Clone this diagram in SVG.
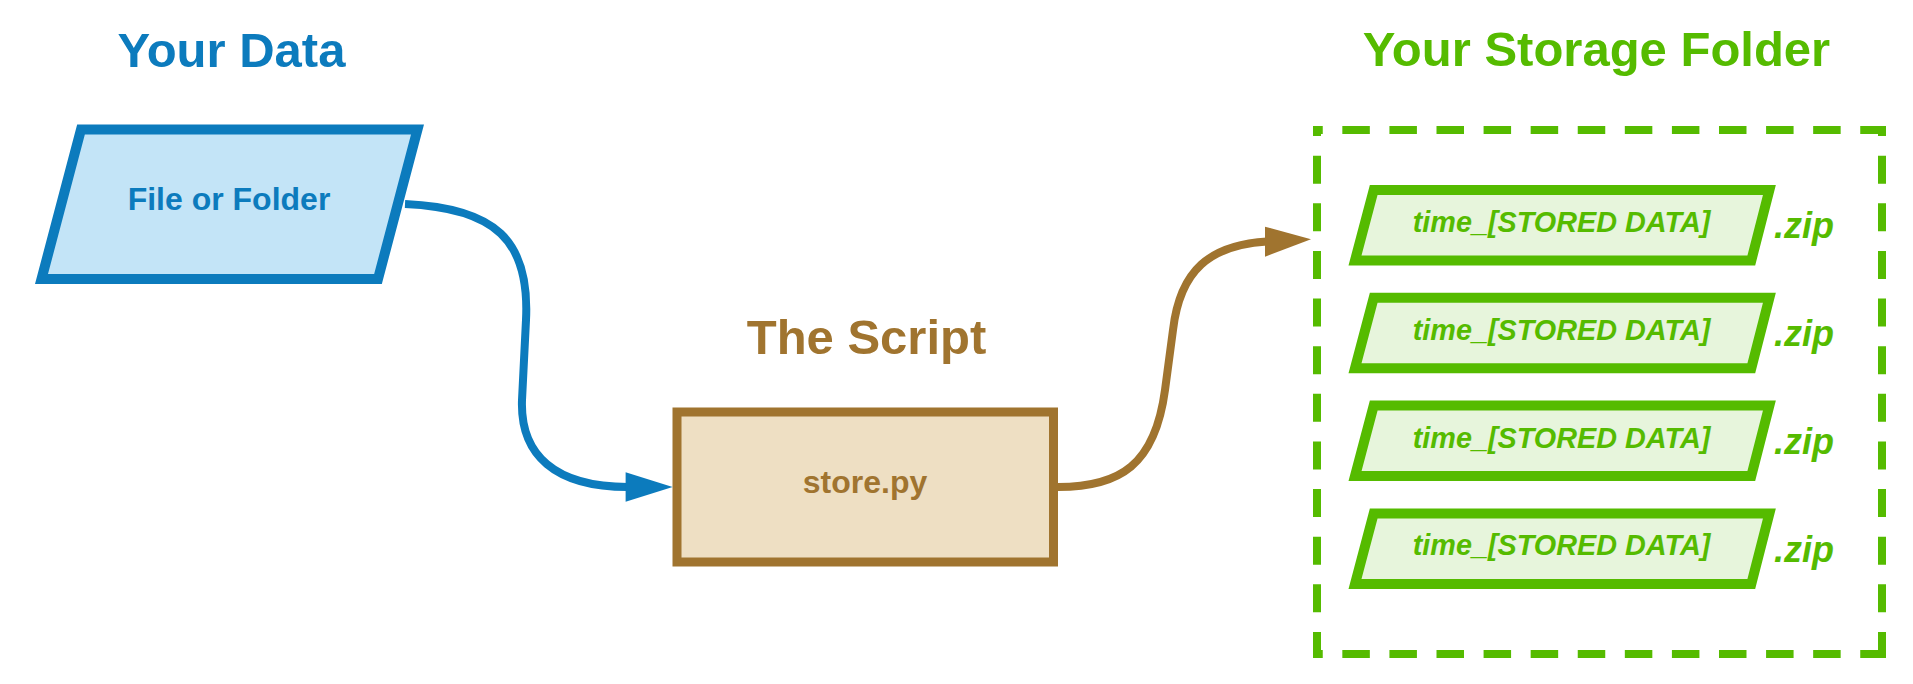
<svg xmlns="http://www.w3.org/2000/svg" width="1913" height="684" viewBox="0 0 1913 684">
<style>
text{font-family:"Liberation Sans",Arial,sans-serif;font-weight:bold;text-anchor:middle}
.title{font-size:49px}
.lbl{font-size:32px}
.blue{fill:#0c7bbd}
.brown{fill:#a0742f}
.green{fill:#55bb00}
.item{fill:#e7f5dc;stroke:#55bb00;stroke-width:10}
.itxt{font-size:28.8px;font-style:italic;fill:#55bb00}
.zip{font-size:36px;font-style:italic;fill:#55bb00;text-anchor:start}
.dash{stroke:#55bb00;stroke-width:8;fill:none}
</style>
<rect width="1913" height="684" fill="#ffffff"/>
<g id="title-data"><text class="title blue" x="231.5" y="67">Your Data</text></g>
<g id="title-script"><text class="title brown" x="866.5" y="354">The Script</text></g>
<g id="title-storage"><text class="title green" x="1596.5" y="66">Your Storage Folder</text></g>

<g id="file-or-folder">
<polygon points="81,129.5 417.5,129.5 378,279 41.5,279" fill="#c3e4f7" stroke="#0c7bbd" stroke-width="10"/>
<text class="lbl blue" x="229" y="210">File or Folder</text>
</g>

<g id="store-py">
<rect x="677" y="412" width="376.5" height="150" fill="#eedfc3" stroke="#a0742f" stroke-width="9"/>
<text class="lbl brown" x="865" y="493">store.py</text>
</g>

<g id="storage-folder">
<line class="dash" x1="1313" y1="130" x2="1886" y2="130" stroke-dasharray="27.5 19.583" stroke-dashoffset="17.75"/>
<line class="dash" x1="1313" y1="654" x2="1886" y2="654" stroke-dasharray="27.5 19.583" stroke-dashoffset="17.75"/>
<line class="dash" x1="1317" y1="126" x2="1317" y2="658" stroke-dasharray="28 19.636" stroke-dashoffset="18"/>
<line class="dash" x1="1882" y1="126" x2="1882" y2="658" stroke-dasharray="28 19.636" stroke-dashoffset="18"/>
</g>

<g id="item-1">
<polygon class="item" points="1373.7,190 1769.4,190 1751.3,260.5 1355,260.5"/>
<text class="itxt" x="1561.5" y="232">time_[STORED DATA]</text>
<text class="zip" x="1774" y="238.3">.zip</text>
</g>
<g id="item-2">
<polygon class="item" points="1373.7,297.8 1769.4,297.8 1751.3,368.3 1355,368.3"/>
<text class="itxt" x="1561.5" y="339.8">time_[STORED DATA]</text>
<text class="zip" x="1774" y="346.1">.zip</text>
</g>
<g id="item-3">
<polygon class="item" points="1373.7,405.6 1769.4,405.6 1751.3,476.1 1355,476.1"/>
<text class="itxt" x="1561.5" y="447.6">time_[STORED DATA]</text>
<text class="zip" x="1774" y="453.9">.zip</text>
</g>
<g id="item-4">
<polygon class="item" points="1373.7,513.4 1769.4,513.4 1751.3,583.9 1355,583.9"/>
<text class="itxt" x="1561.5" y="555.4">time_[STORED DATA]</text>
<text class="zip" x="1774" y="561.7">.zip</text>
</g>

<g id="connectors" fill="none">
<path d="M405,204 C495,208 530,240 526,320 L522,400 C520,455 555,487 628,487" stroke="#0c7bbd" stroke-width="8"/>
<polygon points="672.6,487 625.6,472.3 625.6,501.7" fill="#0c7bbd"/>
<path d="M1058,487 C1120,487 1155,465 1165,390 L1173,330 C1180,270 1210,245 1267,241.5" stroke="#a0742f" stroke-width="8"/>
<polygon points="1311,239.3 1265,226.7 1265,256.7" fill="#a0742f"/>
</g>
</svg>
